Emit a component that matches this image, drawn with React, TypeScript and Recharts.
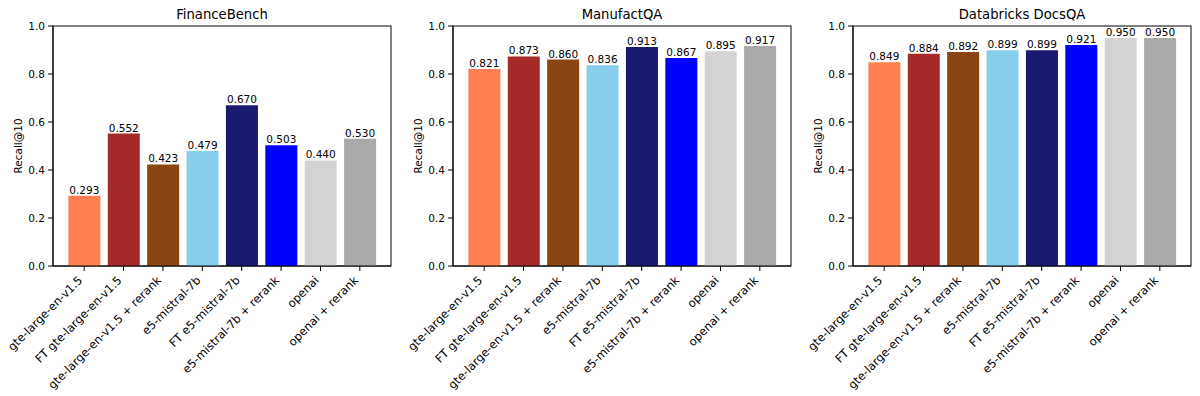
import React from 'react';
import { BarChart, Bar, XAxis, YAxis, Cell, LabelList, usePlotArea } from 'recharts';

const categories = [
  'gte-large-en-v1.5',
  'FT gte-large-en-v1.5',
  'gte-large-en-v1.5 + rerank',
  'e5-mistral-7b',
  'FT e5-mistral-7b',
  'e5-mistral-7b + rerank',
  'openai',
  'openai + rerank',
];

const colors = ['#FF7F50', '#A52A2A', '#8B4513', '#87CEEB', '#191970', '#0000FF', '#D3D3D3', '#A9A9A9'];

const financeBench = [0.293, 0.552, 0.423, 0.479, 0.670, 0.503, 0.440, 0.530];
const manufactQA = [0.821, 0.873, 0.860, 0.836, 0.913, 0.867, 0.895, 0.917];
const docsQA = [0.849, 0.884, 0.892, 0.899, 0.899, 0.921, 0.950, 0.950];

const titles = ['FinanceBench', 'ManufactQA', 'Databricks DocsQA'];
const yTicks = [0, 0.2, 0.4, 0.6, 0.8, 1.0];

const FONT = 'DejaVu Sans, sans-serif';
const FS = 10.5;
const XFS = 11.5;

const XTick = (props: any) => {
  const { x, y, payload } = props;
  return (
    <g transform={`translate(${x - 1},${y + 10})`}>
      <text transform="rotate(-45)" textAnchor="end" fontSize={XFS} fill="#000" fontFamily={FONT}>
        {payload.value}
      </text>
    </g>
  );
};

const YLabel = (props: any) => (
  <text
    x={18}
    y={146}
    transform="rotate(-90, 18, 146)"
    textAnchor="middle"
    dominantBaseline="central"
    fontSize={FS}
    fill="#000"
    fontFamily={FONT}
  >
    Recall@10
  </text>
);

const Frame = ({ title }: { title: string }) => {
  const area = usePlotArea();
  if (!area) return null;
  return (
    <g>
      <rect x={area.x} y={area.y} width={area.width} height={area.height} fill="none" stroke="#000" strokeWidth={1} />
      <text
        x={area.x + area.width / 2}
        y={area.y - 7}
        textAnchor="middle"
        fontSize={13.2}
        fill="#000"
        fontFamily={FONT}
      >
        {title}
      </text>
    </g>
  );
};

function Panel({ values, title, left }: { values: number[]; title: string; left: number }) {
  const data = categories.map((c, i) => ({ name: c, value: values[i] }));
  return (
    <div style={{ position: 'absolute', left, top: 0, width: 400, height: 396 }}>
      <BarChart
        width={400}
        height={396}
        data={data}
        margin={{ top: 26, right: 9, left: 0, bottom: 0 }}
        barCategoryGap="10%"
      >
        <XAxis
          dataKey="name"
          interval={0}
          height={130}
          tick={<XTick />}
          tickSize={5}
          tickMargin={0}
          stroke="#000"
          padding={{ left: 11.45, right: 11.45 }}
        />
        <YAxis
          domain={[0, 1]}
          ticks={yTicks}
          width={53}
          tickSize={5}
          tickMargin={3}
          tickFormatter={(v: number) => v.toFixed(1)}
          tick={{ fontSize: FS, fill: '#000', fontFamily: FONT }}
          stroke="#000"
          label={<YLabel />}
        />
        <Bar dataKey="value" isAnimationActive={false}>
          {data.map((d, i) => (
            <Cell key={d.name} fill={colors[i]} />
          ))}
          <LabelList
            dataKey="value"
            position="top"
            offset={2}
            formatter={(v: any) => Number(v).toFixed(3)}
            style={{ fontSize: FS, fill: '#000', fontFamily: FONT }}
          />
        </Bar>
        <Frame title={title} />
      </BarChart>
    </div>
  );
}

export default function App() {
  const series = [financeBench, manufactQA, docsQA];
  return (
    <div style={{ position: 'absolute', left: 0, top: 0, width: 1200, height: 396, background: '#fff' }}>
      {series.map((s, i) => (
        <Panel key={titles[i]} values={s} title={titles[i]} left={i * 400} />
      ))}
    </div>
  );
}
